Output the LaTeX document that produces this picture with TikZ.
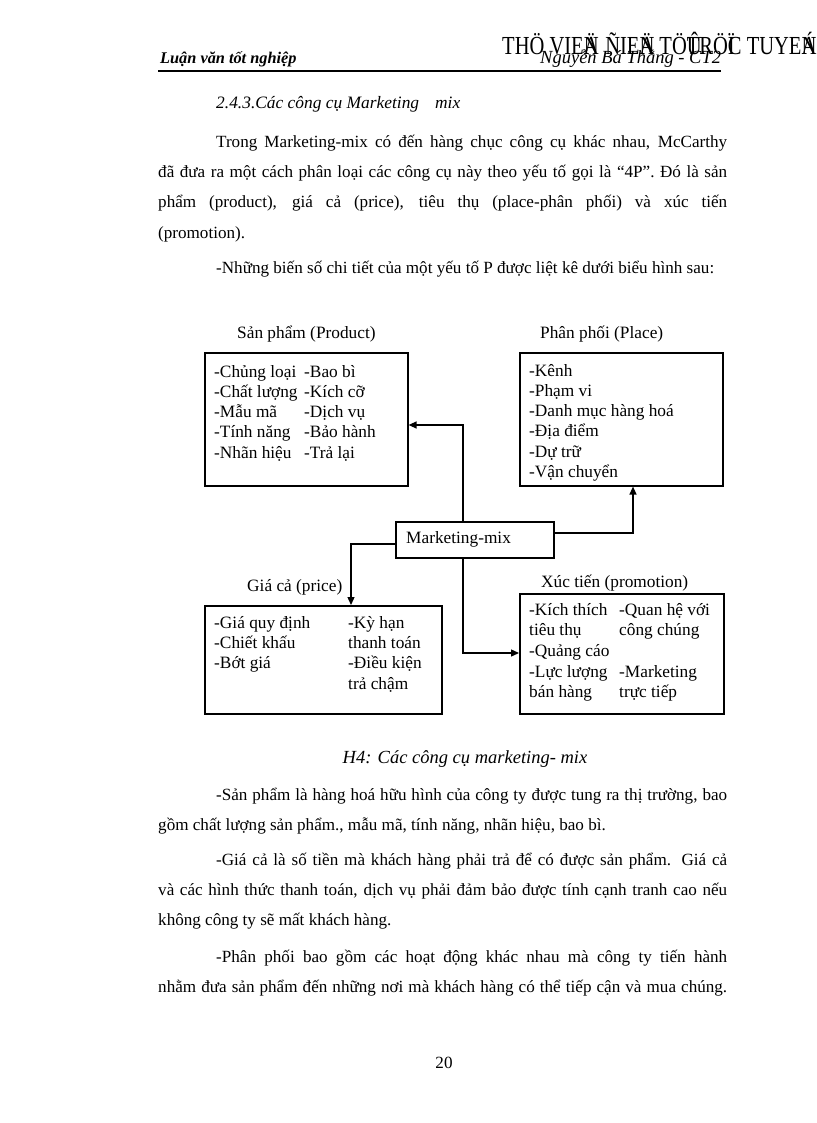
\documentclass[tikz,border=0pt]{standalone}
\usepackage{fontspec}
\setmainfont{Liberation Serif}
\usetikzlibrary{arrows.meta}
\newcommand{\bodyfnt}{\fontsize{17.1}{30}\selectfont}
\newcommand{\diafnt}{\fontsize{17.3}{20.5}\selectfont}
\newcommand{\jl}[2]{\makebox[#1][s]{#2}}
\begin{document}
\begin{tikzpicture}[x=1pt,y=-1pt,
  body/.style={anchor=base west, inner sep=0pt, font=\bodyfnt},
  dtxt/.style={anchor=base west, inner sep=0pt, font=\diafnt},
  box/.style={draw, line width=1.6pt, inner sep=0pt, anchor=north west},
  conn/.style={line width=1.3pt, -{Triangle[length=8pt,width=7pt]}}]
\useasboundingbox[fill=white] (0,0) rectangle (816,1123);

% header
\node[anchor=base west, inner sep=0pt, font=\fontsize{16.3}{16}\selectfont\bfseries\itshape] (h1) at (160,64) {Luận văn tốt nghiệp};
\node[anchor=base west, inner sep=0pt, font=\fontsize{26}{26}\selectfont] (h2) at (502,55) {\scalebox{0.79}[1]{THÖ VIE\rlap{Ä}N \kern2pt ÑIE\rlap{Ä}N TÖ\rlap{Û}TRÖ\rlap{Ï}C TUYE\rlap{Á}N}};
\node[anchor=base west, inner sep=0pt, font=\fontsize{18.5}{18}\selectfont\itshape] (h3) at (540,64) {Nguyễn Bá Thắng - CT2};
\coordinate (r1) at (158,71);
\coordinate (r2) at (721,71);
\draw[line width=2.6pt] (r1) -- (r2);

% body text top
\node[body, font=\fontsize{17.4}{30}\selectfont\itshape] (t0) at (216,109) {2.4.3.Các công cụ Marketing\hspace{16pt}mix};
\node[body] (t1) at (216,148) {\jl{511pt}{Trong Marketing-mix có đến hàng chục công cụ khác nhau, McCarthy}};
\node[body] (t2) at (158,178) {\jl{569pt}{đã đưa ra một cách phân loại các công cụ này theo yếu tố gọi là “4P”. Đó là sản}};
\node[body] (t3) at (158,208) {\jl{569pt}{phẩm (product), giá cả (price), tiêu thụ (place-phân phối) và xúc tiến}};
\node[body] (t4) at (158,238) {(promotion).};
\node[body] (t5) at (216,273) {-Những biến số chi tiết của một yếu tố P được liệt kê dưới biểu hình sau:};

% diagram boxes
\node[box, minimum width=203pt, minimum height=133pt] (prod) at (204,352) {};
\node[box, minimum width=203pt, minimum height=133pt] (place) at (519,352) {};
\node[box, minimum width=158pt, minimum height=36pt] (mm) at (395,521) {};
\node[box, minimum width=237pt, minimum height=108pt] (price) at (204,605) {};
\node[box, minimum width=204pt, minimum height=120pt] (promo) at (519,593) {};

% titles
\node[dtxt] (ttp) at (237,338) {Sản phẩm (Product)};
\node[dtxt] (ttpl) at (540,338) {Phân phối (Place)};
\node[dtxt] (ttpr) at (247,591) {Giá cả (price)};
\node[dtxt] (ttpo) at (541,587) {Xúc tiến (promotion)};
\node[dtxt] (mmt) at (406,543) {Marketing-mix};

% product content
\node[dtxt] (p1) at (214,377) {-Chủng loại};
\node[dtxt] (p2) at (214,397) {-Chất lượng};
\node[dtxt] (p3) at (214,417) {-Mẫu mã};
\node[dtxt] (p4) at (214,437.5) {-Tính năng};
\node[dtxt] (p5) at (214,458) {-Nhãn hiệu};
\node[dtxt] (q1) at (304,377) {-Bao bì};
\node[dtxt] (q2) at (304,397) {-Kích cỡ};
\node[dtxt] (q3) at (304,417) {-Dịch vụ};
\node[dtxt] (q4) at (304,437.5) {-Bảo hành};
\node[dtxt] (q5) at (304,458) {-Trả lại};

% place content
\node[dtxt] (l1) at (529,376) {-Kênh};
\node[dtxt] (l2) at (529,396) {-Phạm vi};
\node[dtxt] (l3) at (529,416) {-Danh mục hàng hoá};
\node[dtxt] (l4) at (529,436.5) {-Địa điểm};
\node[dtxt] (l5) at (529,457) {-Dự trữ};
\node[dtxt] (l6) at (529,477) {-Vận chuyển};

% price content
\node[dtxt] (g1) at (214,628) {-Giá quy định};
\node[dtxt] (g2) at (214,648) {-Chiết khấu};
\node[dtxt] (g3) at (214,668.5) {-Bớt giá};
\node[dtxt] (k1) at (348,628) {-Kỳ hạn};
\node[dtxt] (k2) at (348,648) {thanh toán};
\node[dtxt] (k3) at (348,668.5) {-Điều kiện};
\node[dtxt] (k4) at (348,689) {trả chậm};

% promotion content
\node[dtxt] (x1) at (529,615) {-Kích thích};
\node[dtxt] (x2) at (529,635.5) {tiêu thụ};
\node[dtxt] (x3) at (529,656) {-Quảng cáo};
\node[dtxt] (x4) at (529,677) {-Lực lượng};
\node[dtxt] (x5) at (529,697.5) {bán hàng};
\node[dtxt] (y1) at (619,615) {-Quan hệ với};
\node[dtxt] (y2) at (619,635.5) {công chúng};
\node[dtxt] (y4) at (619,677) {-Marketing};
\node[dtxt] (y5) at (619,697.5) {trực tiếp};

% connectors
\coordinate (c1) at (463,425);
\coordinate (c2) at (633,533);
\coordinate (c3) at (351,544);
\coordinate (c4) at (463,653);
\draw[conn] (mm.north -| c1) |- (c1 -| prod.east);
\draw[conn] (mm.east |- c2) -| (place.south -| c2);
\draw[conn] (mm.west |- c3) -| (price.north -| c3);
\draw[conn] (mm.south -| c4) |- (promo.west |- c4);

% caption and body text bottom
\node[body, font=\fontsize{18.5}{30}\selectfont\itshape, anchor=base] (cap) at (465,763) {H4: Các công cụ marketing- mix};
\node[body] (b1) at (216,800) {\jl{511pt}{-Sản phẩm là hàng hoá hữu hình của công ty được tung ra thị trường, bao}};
\node[body] (b2) at (158,830) {gồm chất lượng sản phẩm., mẫu mã, tính năng, nhãn hiệu, bao bì.};
\node[body] (b3) at (216,865) {\jl{511pt}{-Giá cả là số tiền mà khách hàng phải trả để có được sản phẩm. Giá cả}};
\node[body] (b4) at (158,895) {\jl{569pt}{và các hình thức thanh toán, dịch vụ phải đảm bảo được tính cạnh tranh cao nếu}};
\node[body] (b5) at (158,925) {không công ty sẽ mất khách hàng.};
\node[body] (b6) at (216,962) {\jl{511pt}{-Phân phối bao gồm các hoạt động khác nhau mà công ty tiến hành}};
\node[body] (b7) at (158,992) {\jl{569pt}{nhằm đưa sản phẩm đến những nơi mà khách hàng có thể tiếp cận và mua chúng.}};
\node[body, anchor=base] (pg) at (444,1068) {20};
\end{tikzpicture}
\end{document}
